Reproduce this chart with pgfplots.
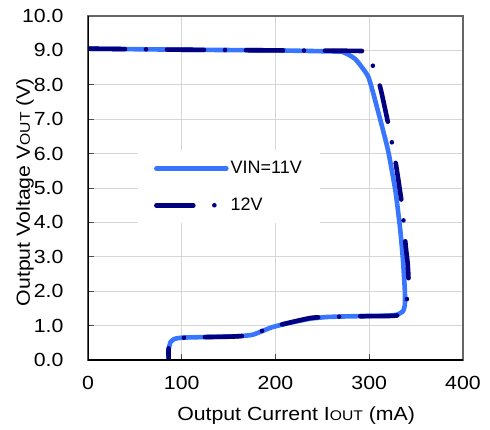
\documentclass[border=0pt]{standalone}
\usepackage{fontspec}
\setmainfont{Liberation Sans}[FakeStretch=1.12]
\newfontfamily\legfont{Liberation Sans}
\usepackage{pgfplots}
\pgfplotsset{compat=1.18}
\definecolor{lblue}{RGB}{56,118,255}
\definecolor{navy}{RGB}{0,0,128}
\newcommand{\sm}[1]{{\fontsize{14bp}{14bp}\selectfont #1}}
\begin{document}
\begin{tikzpicture}
\begin{axis}[
  scale only axis, width=375bp, height=344bp,
  xmin=0, xmax=400, ymin=0, ymax=10,
  xtick={0,100,...,400}, ytick={0,1,...,10},
  grid=major, major grid style={color=black!16, line width=0.9bp},
  tick align=inside, xtick pos=bottom, ytick pos=left,
  major tick length=6bp, tick style={black!70, line width=0.9bp},
  axis line style={draw=black!60, line width=1.2bp},
  /pgf/number format/assume math mode=true,
  every tick label/.append style={font=\fontsize{19bp}{21bp}\selectfont},
  y tick label style={/pgf/number format/.cd, fixed, fixed zerofill, precision=1, /tikz/.cd},
  yticklabel style={anchor=east, xshift=-21bp},
  xticklabel style={anchor=north, yshift=-13bp},
  label style={font=\fontsize{19bp}{21bp}\selectfont},
  xlabel={Output Current I\sm{OUT} (mA)},
  ylabel={Output Voltage V\sm{OUT} (V)},
  xlabel style={at={(axis description cs:0.555,-0.163)}, anchor=center},
  ylabel style={at={(axis description cs:-0.168,0.488)}, anchor=center},
  legend style={at={(0.133,0.61)}, anchor=north west, draw=none, fill=white,
    inner xsep=16bp, inner ysep=9bp, row sep=19bp,
    font=\legfont\fontsize{18bp}{20bp}\selectfont,
    /tikz/every even column/.append style={column sep=5bp}},
  legend cell align=left,
  legend image code/.code={\draw[#1] (0bp,0bp) -- (70bp,0bp);},
]
\addplot[lblue, line width=4.6bp, line cap=round, line join=round, smooth, tension=0.3] coordinates {
(0,9.05) (100,9.02) (200,9.0) (260,8.97) (272,8.95) (285,8.75) (299,8.23)
(309,7.27) (320,6.1) (328,4.9) (333,3.8) (336,2.9) (338,2.0) (338,1.6)
(336,1.42) (330,1.32) (320,1.29) (280,1.27) (255,1.25) (237,1.2) (215,1.08)
(196,0.95) (185,0.83) (175,0.73) (160,0.69) (130,0.67) (100,0.65) (92,0.61)
(88,0.52) (86,0.3) (86,0)
};
\addlegendentry{VIN=11V}
\addplot[navy, line width=4.6bp, line cap=round, line join=round, smooth, tension=0.3,
  dash pattern=on 37bp off 21bp on 0bp off 21bp] coordinates {
(0,9.05) (100,9.02) (200,9.0) (294,8.98) (300,8.85) (305,8.46) (312,7.9)
(321,6.77) (325,6.2) (329,5.6) (335,4.5) (337,3.9) (339,3.28) (341,2.8)
(342,2.18) (339,1.57) (334,1.32) (322,1.28) (280,1.27) (258,1.25) (237,1.22)
(196,0.96) (175,0.73) (153,0.68) (112,0.66) (95,0.63) (89,0.55) (86,0.35) (86,0)
};
\addlegendentry{12V}
\draw[black, line width=1.5bp] (rel axis cs:0,1) -- (rel axis cs:0,0) -- (rel axis cs:1,0);
\end{axis}
\pgfresetboundingbox
\useasboundingbox (-88bp,-70bp) rectangle (402bp,360bp);
\end{tikzpicture}
\end{document}
